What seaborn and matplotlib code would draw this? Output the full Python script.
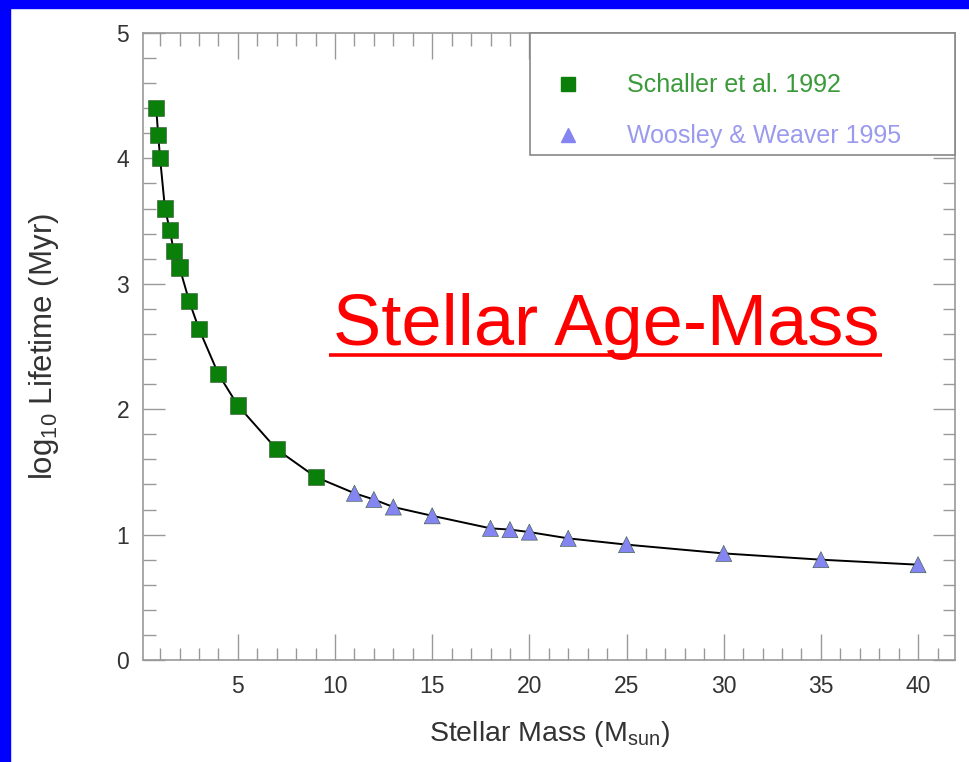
import pandas as pd
import seaborn as sns
import matplotlib.pyplot as plt
from matplotlib.lines import Line2D
from matplotlib.patches import Rectangle
from matplotlib.ticker import MultipleLocator

# data
schaller_mass = [0.8, 0.9, 1.0, 1.25, 1.5, 1.7, 2.0, 2.5, 3.0, 4.0, 5.0, 7.0, 9.0]
schaller_logt = [4.40, 4.19, 4.00, 3.60, 3.43, 3.26, 3.13, 2.86, 2.64, 2.28, 2.03, 1.68, 1.46]
woosley_mass = [11, 12, 13, 15, 18, 19, 20, 22, 25, 30, 35, 40]
woosley_logt = [1.33, 1.28, 1.22, 1.15, 1.05, 1.04, 1.02, 0.97, 0.92, 0.85, 0.80, 0.76]
series_names = ['Schaller et al. 1992', 'Woosley & Weaver 1995']
x_ticks = [5, 10, 15, 20, 25, 30, 35, 40]
y_ticks = [0, 1, 2, 3, 4, 5]

df = pd.DataFrame({
    'mass': schaller_mass + woosley_mass,
    'logt': schaller_logt + woosley_logt,
    'source': [series_names[0]] * len(schaller_mass) + [series_names[1]] * len(woosley_mass),
})

sns.set_style('ticks')
plt.rcParams['font.family'] = ['Liberation Sans', 'DejaVu Sans']
plt.rcParams['mathtext.default'] = 'regular'

marker_colors = {series_names[0]: '#0a7f0a', series_names[1]: '#8585f2'}
text_colors = ['#3a9a3a', '#9a9aee']

fig = plt.figure(figsize=(9.7, 7.62), dpi=100)
# blue slide border
fig.patches.append(Rectangle((0, 0), 10 / 970, 1, transform=fig.transFigure, color='#0000ff', zorder=-5))
fig.patches.append(Rectangle((0, 1 - 8 / 762), 1, 8 / 762, transform=fig.transFigure, color='#0000ff', zorder=-5))

ax = fig.add_axes([143 / 970, 102 / 762, 812 / 970, 627 / 762])

sns.lineplot(data=df, x='mass', y='logt', color='black', lw=1.4, sort=True, ax=ax, zorder=2)
sns.scatterplot(data=df, x='mass', y='logt', hue='source', style='source',
                palette=marker_colors, markers={series_names[0]: 's', series_names[1]: '^'},
                s=135, linewidth=0.4, edgecolor='#335533', legend=False, ax=ax, zorder=3)

ax.set_xlim(0.12, 41.9)
ax.set_ylim(0, 5)
ax.set_xticks(x_ticks)
ax.set_yticks(y_ticks)
ax.xaxis.set_minor_locator(MultipleLocator(1))
ax.yaxis.set_minor_locator(MultipleLocator(0.2))
ax.tick_params(which='both', direction='in', top=True, right=True, color='#999999', width=1.0)
ax.tick_params(axis='x', which='major', length=19, labelsize=16.5, pad=11, labelcolor='#333333')
ax.tick_params(axis='y', which='major', length=16, labelsize=16.5, pad=10, labelcolor='#333333')
ax.tick_params(which='minor', length=9)
for sp in ax.spines.values():
    sp.set_color('#999999')
    sp.set_linewidth(1.2)

ax.set_xlabel('Stellar Mass (M$_{sun}$)', fontsize=20.5, color='#333333', labelpad=15)
ax.set_ylabel('log$_{10}$ Lifetime (Myr)', fontsize=22.5, color='#333333', labelpad=40)

# legend
handles = [
    Line2D([], [], ls='', marker='s', color=marker_colors[series_names[0]], markersize=9.5),
    Line2D([], [], ls='', marker='^', color=marker_colors[series_names[1]], markersize=10),
]
leg = ax.legend(handles, series_names, loc='upper left', bbox_to_anchor=(387 / 812, 0.5, 425 / 812, 0.5),
                mode='expand', borderaxespad=0, fontsize=18, labelcolor=text_colors,
                title=' ', title_fontsize=6, frameon=True, fancybox=False, framealpha=1,
                edgecolor='#888888', borderpad=0.25, handlelength=2.56, handletextpad=1.08,
                labelspacing=1.08)
leg.get_frame().set_linewidth(1.2)

# red overlay caption with underline
txt = ax.text(0.571, 0.502, 'Stellar Age-Mass', transform=ax.transAxes, ha='center', va='baseline',
              fontsize=52, color='red', family='Liberation Sans')
fig.canvas.draw()
bb = txt.get_window_extent()
inv = ax.transAxes.inverted()
x0 = inv.transform((bb.x0 - 4, 0))[0]
x1 = inv.transform((bb.x1 + 2, 0))[0]
ax.plot([x0, x1], [0.486, 0.486], transform=ax.transAxes, color='red', lw=2.6, solid_capstyle='butt')

fig.savefig('out.png', dpi=100)
